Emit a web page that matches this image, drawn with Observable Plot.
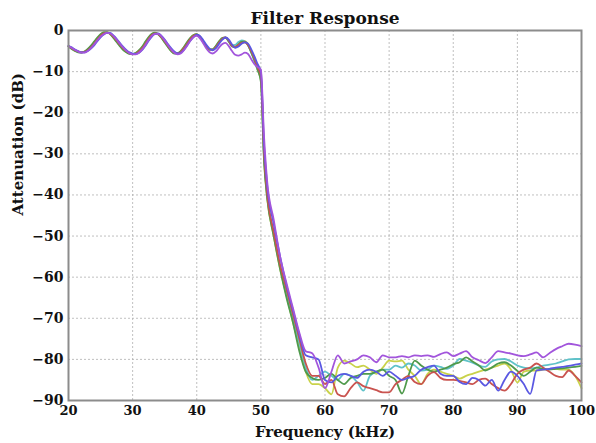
<!DOCTYPE html>
<html>
<head>
<meta charset="utf-8">
<script src="https://cdn.jsdelivr.net/npm/d3@7"></script>
<script src="https://cdn.jsdelivr.net/npm/@observablehq/plot@0.6"></script>
<style>
  html, body { margin: 0; padding: 0; background: #fff; }
  #chart svg { display: block; }
</style>
</head>
<body>
<div id="chart"></div>
<script>
// Frequency grid (kHz): fine in passband, 1 kHz in transition/stopband
const passFreq = [20,20.5,21,21.5,22,22.5,23,23.5,24,24.5,25,25.5,26,26.5,27,27.5,28,28.5,29,29.5,
  30,30.5,31,31.5,32,32.5,33,33.5,34,34.5,35,35.5,36,36.5,37,37.5,38,38.5,39,39.5,
  40,40.5,41,41.5,42,42.5,43,43.5,44,44.5,45,45.5,46,46.5,47,47.5,48,48.5,49,49.5,50,50.5,51];
const stopFreq = [52,53,54,55,56,57,58,59,60,61,62,63,64,65,66,67,68,69,70,71,72,73,74,75,76,77,78,79,
  80,81,82,83,84,85,86,87,88,89,90,91,92,93,94,95,96,97,98,99,100];

const seriesNames = ["run1", "run2", "run3", "run4", "run5", "run6"];
const seriesColors = ["#c9d24a", "#5fc2c9", "#4f9a4c", "#c9534f", "#5a58e2", "#a255dc"];

// Attenuation (dB)
const run1Pass = [-3.9,-4.4,-4.9,-5.2,-5.3,-5.1,-4.6,-3.9,-2.9,-1.9,-1.0,-0.5,-0.4,-0.9,-1.7,-2.6,-3.6,-4.5,-5.2,-5.6,
  -5.7,-5.4,-4.9,-4.0,-2.9,-1.8,-0.9,-0.6,-0.9,-1.7,-2.8,-3.9,-4.9,-5.5,-5.5,-5.0,-4.1,-3.0,-1.9,-1.1,
  -0.9,-1.5,-2.7,-3.9,-4.6,-4.5,-3.8,-2.7,-1.9,-1.8,-2.6,-3.6,-3.7,-3.2,-2.7,-2.6,-3.4,-5.2,-7.3,-9.7,-12,-31.5,-41];
const run1Stop = [-50,-58,-64.5,-71,-77,-83,-86,
  -86,-87,-88.5,-82,-80.3,-81,-81.9,-81.5,-82.5,-83.5,-82,
  -80.3,-80.5,-80.3,-82.5,-84,-86,-83.5,-82.5,-83,-83.5,
  -84,-84.7,-84,-83.5,-83,-82.5,-82,-81.5,-81,-82.5,
  -85.6,-83,-82.7,-82.7,-82.5,-82.3,-82.3,-82.5,-82.5,-84,-87];

const run2Pass = [-3.8,-4.3,-4.8,-5.2,-5.3,-5.2,-4.7,-4.0,-3.1,-2.1,-1.2,-0.6,-0.5,-0.8,-1.6,-2.5,-3.5,-4.4,-5.1,-5.6,
  -5.7,-5.5,-5.0,-4.2,-3.1,-1.9,-1.0,-0.7,-1.0,-1.7,-2.7,-3.8,-4.8,-5.4,-5.5,-5.1,-4.2,-3.1,-2.0,-1.2,
  -1.0,-1.6,-2.7,-3.9,-4.6,-4.6,-3.8,-2.8,-2.0,-1.8,-2.7,-3.6,-3.5,-2.8,-2.4,-2.7,-3.6,-5.4,-7.4,-9.6,-11.5,-31,-40.5];
const run2Stop = [-49.5,-57.5,-64,-70,-76,-82,-85,
  -84,-83,-84,-85,-83.5,-84,-85.5,-87.6,-84,-83,-82.5,
  -82.5,-81.5,-82,-81,-81.5,-82.7,-82.5,-81.5,-81.8,-82.3,
  -81.5,-79.9,-80.3,-80.8,-81.5,-81.8,-80.5,-80,-79.9,-80.5,
  -81.5,-82,-82.2,-82,-81.5,-81.3,-81,-80.5,-80,-79.9,-79.9];

const run3Pass = [-3.9,-4.5,-5.0,-5.3,-5.4,-5.1,-4.5,-3.7,-2.7,-1.7,-0.9,-0.4,-0.4,-0.9,-1.8,-2.8,-3.8,-4.7,-5.3,-5.7,
  -5.8,-5.5,-4.8,-3.9,-2.7,-1.6,-0.8,-0.5,-0.9,-1.8,-2.9,-4.0,-5.0,-5.6,-5.6,-5.0,-4.0,-2.8,-1.8,-1.1,
  -0.9,-1.6,-2.8,-4.0,-4.7,-4.6,-3.7,-2.6,-1.8,-1.7,-2.7,-3.9,-4.1,-3.4,-2.7,-2.7,-3.6,-5.3,-7.2,-9.5,-12.5,-32,-41];
const run3Stop = [-50,-58,-65,-71,-78,-83,-84.5,
  -85,-84.5,-83.5,-85,-86,-84.5,-84,-83.5,-83.5,-83,-82.5,
  -84,-85,-88.3,-84,-80.3,-81.5,-82.5,-83,-82.5,-82,
  -81.2,-80.7,-79.5,-80.5,-81.5,-82.7,-82,-81,-80.7,-81.5,
  -82.8,-84,-83,-82,-82.3,-82.5,-82.3,-82.2,-82,-81.8,-81.6];

const run4Pass = [-3.8,-4.3,-4.8,-5.1,-5.3,-5.2,-4.8,-4.1,-3.2,-2.2,-1.3,-0.7,-0.5,-0.8,-1.5,-2.4,-3.4,-4.3,-5.0,-5.5,
  -5.7,-5.6,-5.1,-4.3,-3.2,-2.0,-1.1,-0.7,-0.9,-1.6,-2.6,-3.7,-4.7,-5.4,-5.6,-5.2,-4.3,-3.2,-2.1,-1.3,
  -1.0,-1.5,-2.6,-3.8,-4.6,-4.7,-4.0,-2.9,-2.0,-1.7,-2.5,-3.7,-4.0,-3.5,-3.0,-2.9,-3.5,-5.0,-6.8,-9.0,-11,-30,-40];
const run4Stop = [-49,-57,-63,-69,-75,-81,-84,
  -84,-86,-85,-88.5,-89,-87,-85.6,-86.5,-87,-87.5,-88,
  -88,-86,-85,-84,-85.5,-86,-84,-83.1,-84.5,-85,
  -85,-85.2,-85.6,-86,-85,-84.7,-86,-87,-87.6,-86,
  -83.5,-82.5,-82,-81,-82,-83,-84,-84.3,-82.7,-84,-85.6];

const run5Pass = [-3.7,-4.1,-4.6,-5.0,-5.3,-5.3,-5.0,-4.4,-3.6,-2.6,-1.7,-1.0,-0.6,-0.6,-1.2,-2.0,-3.0,-3.9,-4.7,-5.3,
  -5.6,-5.7,-5.4,-4.7,-3.7,-2.5,-1.5,-0.8,-0.7,-1.3,-2.2,-3.3,-4.3,-5.1,-5.6,-5.4,-4.7,-3.6,-2.5,-1.6,
  -1.0,-1.3,-2.3,-3.5,-4.4,-4.8,-4.3,-3.2,-2.2,-1.7,-2.2,-3.4,-4.2,-3.9,-3.2,-2.9,-3.2,-4.6,-6.3,-8.2,-10,-28,-38];
const run5Stop = [-47,-55,-62,-68,-74,-79,-79.5,
  -80,-85,-85.6,-84,-83.5,-84,-84.5,-83,-82.5,-83,-84,
  -83,-84,-85,-84.5,-84,-82.5,-81.9,-81.5,-83.5,-84,
  -84,-85.5,-86,-84.5,-85,-86.4,-85,-87.6,-85,-83,
  -84,-86,-88.4,-82.7,-82.5,-82.3,-82,-81.8,-81.6,-81.3,-81];

const run6Pass = [-3.8,-4.2,-4.7,-5.1,-5.4,-5.4,-5.0,-4.3,-3.4,-2.4,-1.5,-0.9,-0.6,-0.7,-1.3,-2.2,-3.2,-4.1,-4.9,-5.5,
  -5.8,-5.8,-5.4,-4.6,-3.5,-2.3,-1.3,-0.8,-0.8,-1.4,-2.4,-3.5,-4.6,-5.4,-5.8,-5.6,-4.8,-3.7,-2.5,-1.6,
  -1.3,-1.9,-3.1,-4.4,-5.3,-5.6,-5.1,-4.1,-3.3,-3.0,-3.8,-5.0,-5.9,-6.1,-5.8,-5.4,-5.7,-7.0,-8.2,-8.9,-9.5,-26,-37];
const run6Stop = [-46,-55,-61.5,-67.5,-73.5,-78,-78.5,
  -82,-87,-83,-79,-81,-80.5,-80,-79,-79.5,-80.7,-79,
  -79.5,-79.5,-79.2,-79.5,-79,-79.2,-79,-79.4,-78.7,-78.3,
  -79.2,-78.6,-78,-79.5,-80.2,-80.9,-79.5,-78,-78.3,-78.6,
  -79,-79.2,-78.8,-78.3,-79.5,-78.5,-77.5,-76.8,-76.2,-76.4,-76.8];

const xTicks = [20,30,40,50,60,70,80,90,100];
const yTicks = [0,-10,-20,-30,-40,-50,-60,-70,-80,-90];

const passBySeries = {run1: run1Pass, run2: run2Pass, run3: run3Pass, run4: run4Pass, run5: run5Pass, run6: run6Pass};
const stopBySeries = {run1: run1Stop, run2: run2Stop, run3: run3Stop, run4: run4Stop, run5: run5Stop, run6: run6Stop};

const freq = passFreq.concat(stopFreq);
const rows = [];
for (const name of seriesNames) {
  const vals = passBySeries[name].concat(stopBySeries[name]);
  freq.forEach((f, i) => rows.push({series: name, f, db: vals[i]}));
}

const serif = "'DejaVu Serif', 'Liberation Serif', serif";
const fmt = d => d < 0 ? "\u2212" + Math.abs(d) : String(d);

const chart = Plot.plot({
  width: 596,
  height: 443,
  marginLeft: 68,
  marginRight: 15,
  marginTop: 30,
  marginBottom: 43,
  style: {fontFamily: serif, background: "#fff"},
  x: {domain: [20, 100], ticks: xTicks},
  y: {domain: [-90, 0], ticks: yTicks},
  color: {domain: seriesNames, range: seriesColors},
  marks: [
    Plot.gridX(xTicks, {stroke: "#b0b0b0", strokeOpacity: 0.8, strokeDasharray: "2,2"}),
    Plot.gridY(yTicks, {stroke: "#b0b0b0", strokeOpacity: 0.8, strokeDasharray: "2,2"}),
    Plot.line(rows, {x: "f", y: "db", z: "series", stroke: "series", strokeWidth: 1.8, curve: "monotone-x"}),
    Plot.frame({stroke: "#8c8c8c", strokeWidth: 2}),
    Plot.axisX(xTicks, {tickSize: 0, tickPadding: 5, tickFormat: fmt, fontSize: 13, fontWeight: "bold", fill: "#111", label: null}),
    Plot.axisY(yTicks, {tickSize: 0, tickPadding: 5, tickFormat: fmt, fontSize: 14, fontWeight: "bold", fill: "#111", label: null}),
    Plot.text(["Filter Response"], {frameAnchor: "top", dy: -12, fontSize: 17, fontWeight: "bold", fill: "#111", lineAnchor: "middle"}),
    Plot.text(["Frequency (kHz)"], {frameAnchor: "bottom", dy: 32, fontSize: 15, fontWeight: "bold", fill: "#111", lineAnchor: "middle"}),
    Plot.text(["Attenuation (dB)"], {frameAnchor: "left", dx: -50, rotate: -90, fontSize: 15, fontWeight: "bold", fill: "#111", lineAnchor: "middle"})
  ]
});
document.getElementById("chart").appendChild(chart);
</script>
</body>
</html>
